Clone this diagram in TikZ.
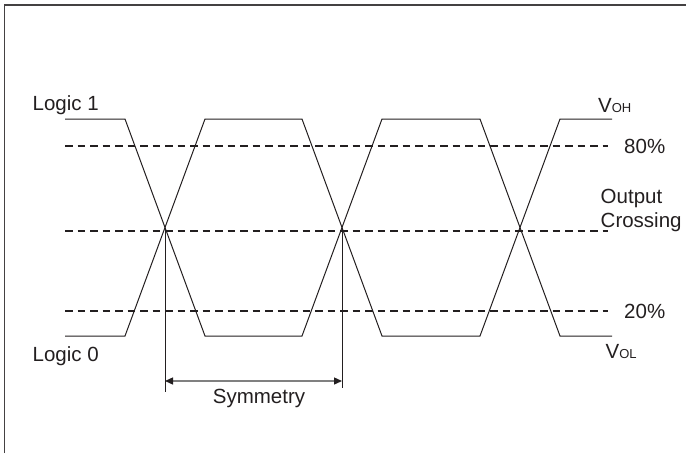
\documentclass[tikz,border=0pt]{standalone}
\usepackage{fontspec}
\setmainfont{Liberation Sans}
\usetikzlibrary{arrows.meta}
\definecolor{ink}{HTML}{231F20}
\tikzset{
  wave/.style={ink,line width=1pt,line join=miter},
  level/.style={ink,line width=1.6pt,dash pattern=on 7.5pt off 5pt},
  txt/.style={ink,inner sep=0pt,anchor=base west,font=\fontsize{20.5}{24}\selectfont},
  span/.style={gray,line width=1.4pt,{Triangle[ink,length=8pt,width=7pt]}-{Triangle[ink,length=8pt,width=7pt]}}
}
\newcommand{\vlevel}[4]{%
 \node[txt] ({#1}) at ({#2}) {V{\fontsize{13}{15}\selectfont #3}};%
}

\begin{document}
\begin{tikzpicture}[x=1pt,y=-1pt]
  \useasboundingbox (0,0) rectangle (686,453);
  \draw[ink!85,line width=1.4pt] (4.5,453) -- (4.5,5) -- (686,5);
  % threshold lines
  \draw[level] (65,146) -- (608,146);
  \draw[level] (65,231) -- (608,231);
  \draw[level] (65,311) -- (608,311);
  % the two outputs
  \draw[wave] (65,119) -- (125,119) -- (205,336) -- (302,336) -- (382,119)
    -- (480,119) -- (560,336) -- (612,336);
  \draw[wave] (65,336) -- (125,336) -- (205,119) -- (302,119) -- (382,336)
    -- (480,336) -- (560,119) -- (612,119);
  \coordinate (x1) at (165,227.5);
  \coordinate (x2) at (342,227.5);
  \coordinate (m1) at (165,392);
  \coordinate (m2) at (342,388);
  \coordinate (s1) at (165,381);
  \coordinate (s2) at (342,381);
  \draw[wave] (x1) -- (m1);
  \draw[wave] (x2) -- (m2);
  \draw[span] (s1) -- (s2);
  % labels
  \node[txt] (l1) at (32.5,110) {Logic 1};
  \node[txt] (l0) at (32.5,361) {Logic 0};
  \vlevel{voh}{598,112}{OH};
  \vlevel{vol}{605.5,358}{OL};
  \node[txt] (p80) at (624,153) {80\%};
  \node[txt] (p20) at (624,318) {20\%};
  \node[txt,align=left] (oc) at (600.5,227) {Output\\Crossing};
  \node[txt,anchor=base] (sym) at (259,403) {Symmetry};
\end{tikzpicture}
\end{document}
